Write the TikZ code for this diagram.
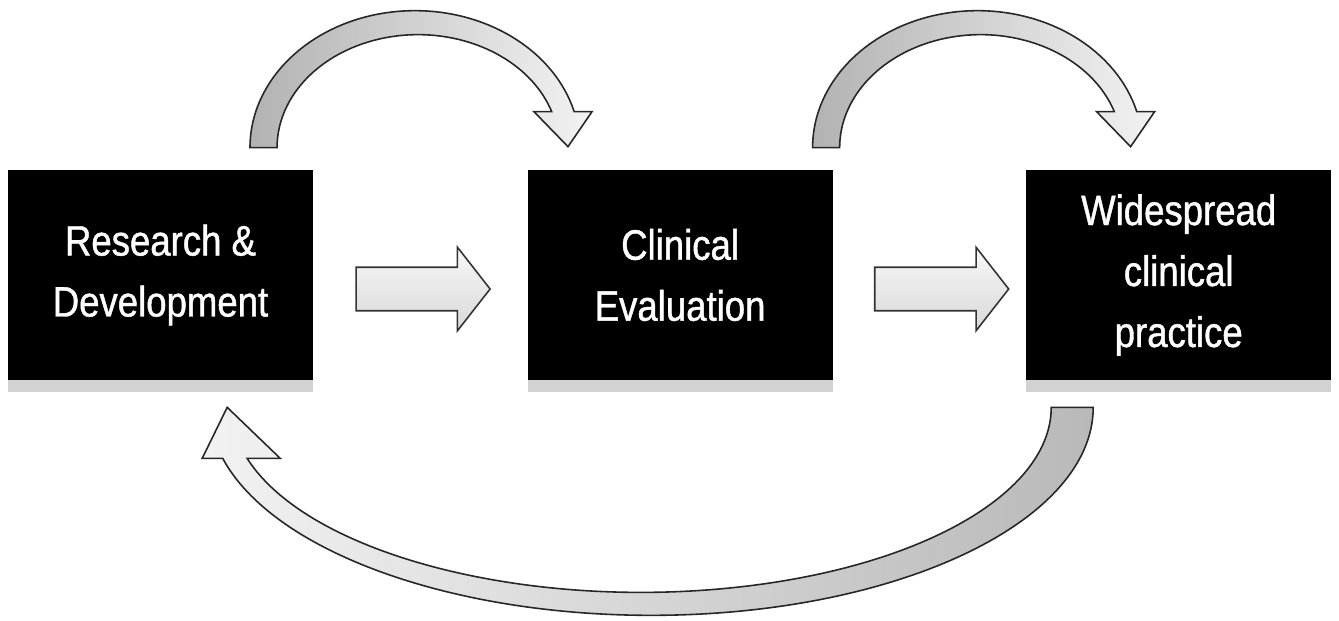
\documentclass[tikz,border=0pt]{standalone}
\usepackage{fontspec}
\newfontfamily\boxfont[FakeStretch=0.86,FakeBold=1]{Liberation Sans}
\usetikzlibrary{arrows.meta,calc,positioning,shapes.arrows,shadows}

\begin{document}
\begin{tikzpicture}[x=0.02cm,y=0.02cm,
  stage/.style={rectangle,fill=black,minimum width=6.1cm,minimum height=4.2cm,
                align=center,text=white,inner sep=0pt,
                font=\boxfont\fontsize{24.2}{34.7}\selectfont,
                drop shadow={shadow xshift=0cm,shadow yshift=-0.24cm,fill=gray!35,opacity=1}},
  fatarrow/.style={single arrow,draw=black!80,line width=0.9pt,top color=gray!6,bottom color=gray!30,
                   minimum height=2.68cm,inner xsep=0pt,inner ysep=0.42cm,
                   single arrow head extend=0.4cm,single arrow tip angle=104},
  band/.style={draw=black!85,line width=0.9pt},
  toparc/.pic={
    \path[band,left color=gray!60,right color=gray!10]
      (-13.5,0) arc[start angle=180,end angle=15.24,x radius=165,y radius=137]
      -- (328.5,36) -- (304.5,1) -- (270.5,36) -- (288.2,36)
      arc[start angle=18.58,end angle=180,x radius=141,y radius=113] -- cycle;},
  backarc/.pic={
    \path[band,left color=gray!10,right color=gray!55]
      (21,0) arc[start angle=0,end angle=-165.8,x radius=442,y radius=208]
      -- (-870,-51) -- (-845,0) -- (-792,-51) -- (-825.1,-51)
      arc[start angle=-164,end angle=0,x radius=410,y radius=185] -- cycle;}]

\useasboundingbox (0,0) rectangle (1339,620);

\node[stage] (rd) at (160.5,345) {Research \&\\Development};
\node[stage,right=4.28cm of rd] (ce) {Clinical\\Evaluation};
\node[stage,right=3.86cm of ce] (wcp) {Widespread\\clinical\\practice};

\node[fatarrow,right=0.84cm of rd,yshift=-0.28cm] (ar1) {};
\node[fatarrow,right=0.82cm of ce,yshift=-0.28cm] (ar2) {};

\pic at ($(rd.north)+(103,22)$) {toparc};
\pic at ($(ce.north)+(146,22)$) {toparc};
\pic at ($(wcp.south)+(-106.5,-27)$) {backarc};
\end{tikzpicture}
\end{document}
